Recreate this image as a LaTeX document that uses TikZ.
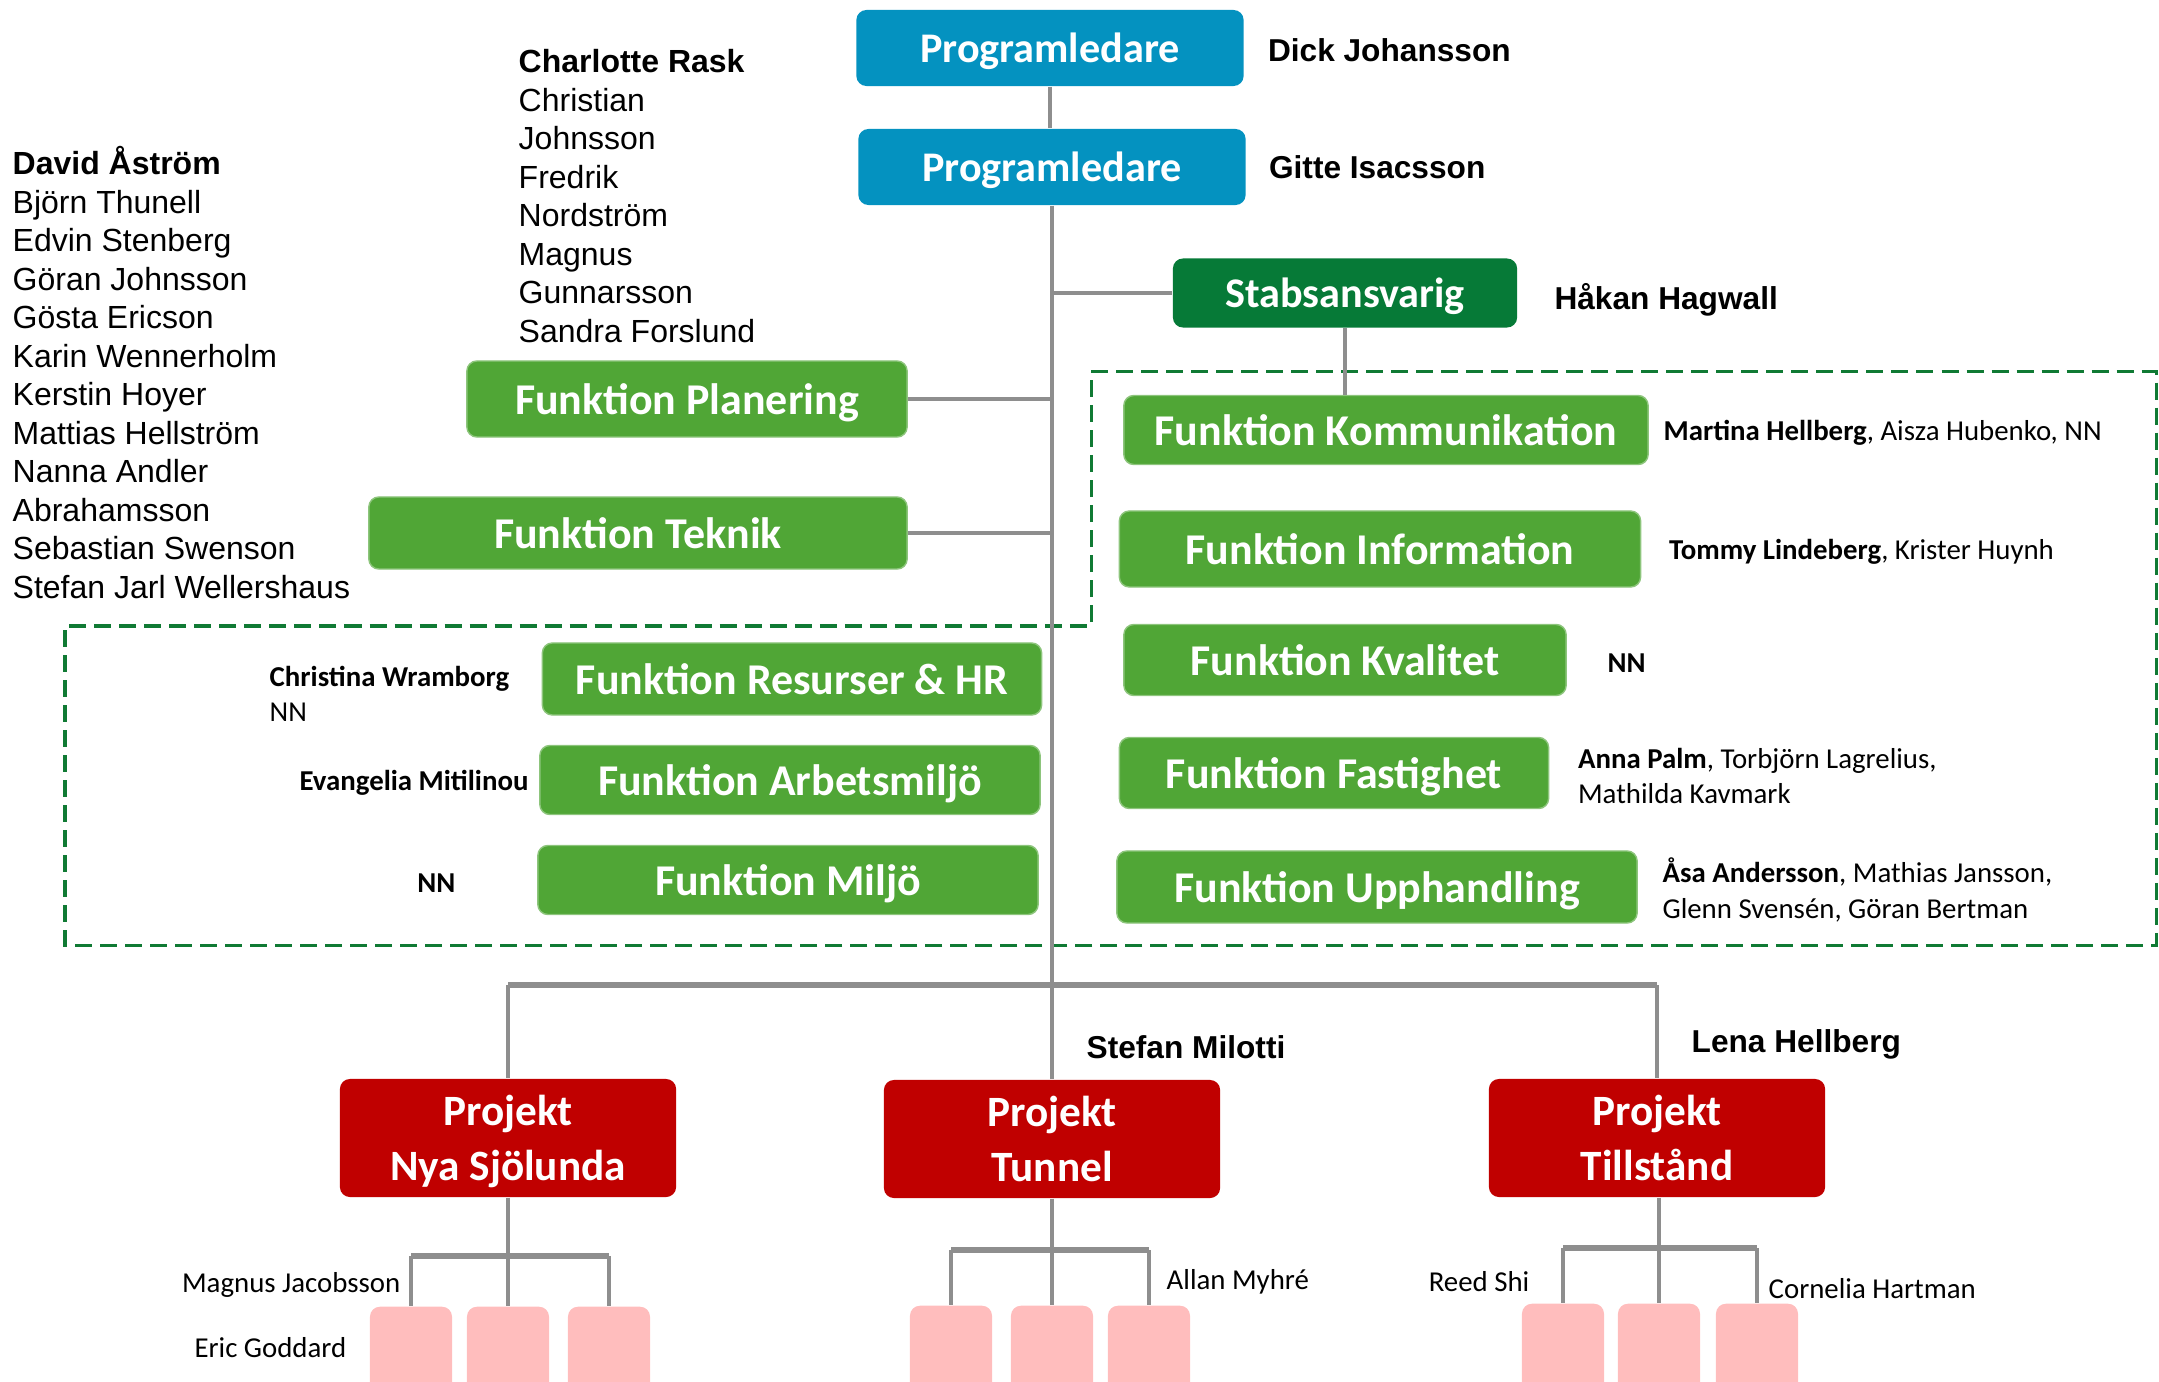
\documentclass[tikz,border=0pt]{standalone}
\usepackage{fontspec}
\setmainfont{Carlito}
\newfontfamily\arialfont{Liberation Sans}
\usetikzlibrary{positioning}

\definecolor{progblue}{RGB}{4,146,192}
\definecolor{funcgreen}{RGB}{80,166,54}
\definecolor{stabgreen}{RGB}{6,122,55}
\definecolor{projred}{RGB}{192,0,0}
\definecolor{teampink}{RGB}{255,189,189}
\definecolor{linegray}{RGB}{142,142,142}
\definecolor{groupgreen}{RGB}{16,122,52}

\begin{document}
\begin{tikzpicture}[x=0.01cm, y=-0.01cm,
        box/.style={rounded corners=0.1cm, inner sep=0pt, text=white, align=center, text depth=0pt,
            font=\fontsize{12.5}{15.6}\selectfont\bfseries},
        prog/.style={box, fill=progblue, minimum width=3.87cm, minimum height=0.76cm,
            font=\fontsize{12}{14}\selectfont\bfseries},
        func/.style={box, fill=funcgreen, draw=funcgreen!65!white, line width=0.4pt, minimum height=0.71cm},
        proj/.style={box, fill=projred, minimum width=3.36cm, minimum height=1.18cm,
            font=\fontsize{12.3}{15.6}\selectfont\bfseries},
        team/.style={fill=teampink, rounded corners=0.1cm, inner sep=0pt, anchor=north,
            minimum width=0.82cm, minimum height=1cm},
        who/.style={inner sep=0pt, font=\arialfont\fontsize{9}{11}\selectfont\bfseries},
        list/.style={inner sep=0pt, align=left, anchor=north west,
            font=\arialfont\fontsize{9.1}{10.95}\selectfont},
        staff/.style={inner sep=0pt, align=left, yshift=-0.03cm, font=\fontsize{8.2}{10}\selectfont},
        link/.style={draw=linegray, line width=0.04cm},
        bar/.style={draw=linegray, line width=0.055cm},
        group/.style={draw=groupgreen, line width=0.03cm, dash pattern=on 0.17cm off 0.08cm}]
    \useasboundingbox (0,0) rectangle (2159,1382);

    % dashed frame round the staff functions
    \draw[group] (1091,372) -- (2156,372) -- (2156,945) -- (65,945) -- (65,626) -- (1091,626) -- cycle;

    % programme management
    \node[prog] (prog1) at (1050,48) {Programledare};
    \node[prog] (prog2) at (1052,167) {Programledare};
    \node[who, right=0.23cm of prog1, yshift=-0.02cm] (johansson) {Dick Johansson};
    \node[who, right=0.22cm of prog2] (isacsson) {Gitte Isacsson};
    \node[box, fill=stabgreen, minimum width=3.44cm, minimum height=0.69cm,
        font=\fontsize{12}{14}\selectfont\bfseries] (stab) at (1345,293) {Stabsansvarig};
    \node[who, right=0.36cm of stab, yshift=-0.07cm] (hagwall) {Håkan Hagwall};

    % functions
    \node[func, minimum width=4.40cm, minimum height=0.76cm] (plan) at (687,399) {Funktion Planering};
    \node[func, minimum width=5.38cm, minimum height=0.72cm] (tek) at (638,533) {Funktion Teknik};
    \node[func, minimum width=5.24cm, minimum height=0.69cm] (komm) at (1386,430) {Funktion Kommunikation};
    \node[func, minimum width=5.21cm, minimum height=0.76cm] (info) at (1380,549) {Funktion Information};
    \node[func, minimum width=4.42cm] (kval) at (1345,660) {Funktion Kvalitet};
    \node[func, minimum width=4.29cm] (fast) at (1334,773) {Funktion Fastighet};
    \node[func, minimum width=5.20cm, minimum height=0.72cm] (upph) at (1377,887) {Funktion Upphandling};
    \node[func, minimum width=4.99cm, minimum height=0.72cm] (res) at (792,679) {Funktion Resurser \& HR};
    \node[func, minimum width=5.00cm, minimum height=0.69cm] (arb) at (790,780) {Funktion Arbetsmiljö};
    \node[func, minimum width=5.00cm, minimum height=0.69cm] (milj) at (788,880) {Funktion Miljö};

    % who works where
    \node[list] (planteam) at (518,49) {\textbf{Charlotte Rask}\\Christian\\Johnsson\\Fredrik\\Nordström\\Magnus\\Gunnarsson\\Sandra Forslund};
    \node[list] (tekteam) at (12,146) {\textbf{David Åström}\\Björn Thunell\\Edvin Stenberg\\Göran Johnsson\\Gösta Ericson\\Karin Wennerholm\\Kerstin Hoyer\\Mattias Hellström\\Nanna Andler\\Abrahamsson\\Sebastian Swenson\\Stefan Jarl Wellershaus};
    \node[staff, right=0.14cm of komm] (kommteam) {\textbf{Martina Hellberg}, Aisza Hubenko, NN};
    \node[staff, right=0.27cm of info] (infoteam) {\textbf{Tommy Lindeberg}, Krister Huynh};
    \node[staff, right=0.40cm of kval] (kvalteam) {\textbf{NN}};
    \node[staff, right=0.28cm of fast] (fastteam) {\textbf{Anna Palm}, Torbjörn Lagrelius,\\Mathilda Kavmark};
    \node[staff, right=0.24cm of upph] (upphteam) {\textbf{Åsa Andersson}, Mathias Jansson,\\Glenn Svensén, Göran Bertman};
    \node[staff, anchor=west] (resteam) at (269,691) {\textbf{Christina Wramborg}\\NN};
    \node[staff, left=0.10cm of arb] (arbteam) {\textbf{Evangelia Mitilinou}};
    \node[staff, left=0.81cm of milj] (miljteam) {\textbf{NN}};

    % projects
    \node[proj] (nya) at (508,1138) {Projekt\\Nya Sjölunda};
    \node[proj] (tun) at (1052,1139) {Projekt\\Tunnel};
    \node[proj] (till) at (1657,1138) {Projekt\\Tillstånd};
    \node[who, anchor=west] (milotti) at (1086,1047) {Stefan Milotti};
    \node[who, anchor=west] (lhellberg) at (1691,1044) {Lena Hellberg};

    % project teams
    \begin{scope}
        \clip (0,0) rectangle (2159,1382);
        \node[team] (nya1) at (411,1306) {};
        \node[team] (nya2) at (508,1306) {};
        \node[team] (nya3) at (609,1306) {};
        \node[team] (tun1) at (951,1305) {};
        \node[team] (tun2) at (1052,1305) {};
        \node[team] (tun3) at (1149,1305) {};
        \node[team] (till1) at (1563,1303) {};
        \node[team] (till2) at (1659,1303) {};
        \node[team] (till3) at (1757,1303) {};
    \end{scope}
    \node[staff, anchor=east] (jacobsson) at (401,1282) {Magnus Jacobsson};
    \node[staff, anchor=east] (goddard) at (347,1345) {Eric Goddard};
    \node[staff, anchor=west] (myhre) at (1166,1279) {Allan Myhré};
    \node[staff, anchor=east] (shi) at (1530,1279) {Reed Shi};
    \node[staff, anchor=west] (hartman) at (1768,1286) {Cornelia Hartman};

    % connectors
    \coordinate (split) at (1052,985);
    \draw[link] (prog1.south) -- (prog1.south |- prog2.north);
    \draw[link] (prog2.south) -- (tun.north);
    \draw[link] (plan.east) -- (plan.east -| prog2.south);
    \draw[link] (tek.east) -- (tek.east -| prog2.south);
    \draw[link] (stab.west) -- (stab.west -| prog2.south);
    \draw[link] (stab.south) -- (stab.south |- komm.north);
    \draw[bar] (nya.north |- split) -- (till.north |- split);
    \draw[link] (nya.north |- split) -- (nya.north);
    \draw[link] (till.north |- split) -- (till.north);

    \coordinate (nyafork) at (508,1256);
    \draw[link] (nya.south) -- (nyafork);
    \draw[bar] (nya1.north |- nyafork) -- (nya3.north |- nyafork);
    \draw[link] (nya1.north |- nyafork) -- (nya1.north) (nyafork) -- (nya2.north) (nya3.north |- nyafork) -- (nya3.north);

    \coordinate (tunfork) at (1052,1250);
    \draw[link] (tun.south) -- (tunfork);
    \draw[bar] (tun1.north |- tunfork) -- (tun3.north |- tunfork);
    \draw[link] (tun1.north |- tunfork) -- (tun1.north) (tunfork) -- (tun2.north) (tun3.north |- tunfork) -- (tun3.north);

    \coordinate (tillfork) at (1659,1248);
    \draw[link] (till.south -| tillfork) -- (tillfork);
    \draw[bar] (till1.north |- tillfork) -- (till3.north |- tillfork);
    \draw[link] (till1.north |- tillfork) -- (till1.north) (tillfork) -- (till2.north) (till3.north |- tillfork) -- (till3.north);
\end{tikzpicture}
\end{document}
